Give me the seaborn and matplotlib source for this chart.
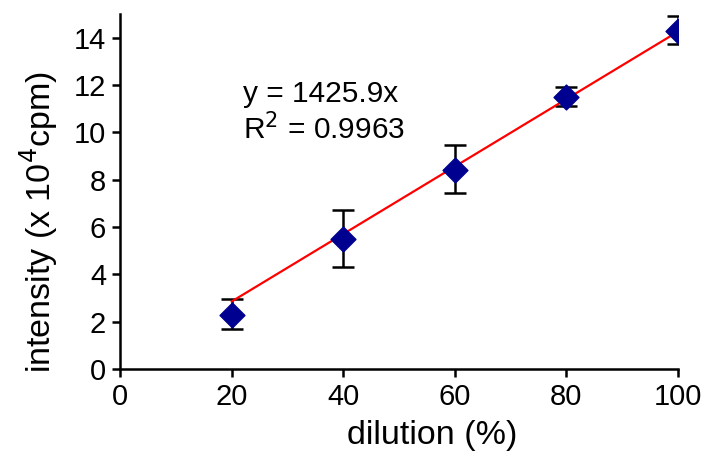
import numpy as np
import seaborn as sns
from matplotlib import pyplot as plt

# data
dilution = [20, 40, 60, 80, 100]
intensity = [2.3, 5.5, 8.4, 11.5, 14.3]
err_up = [0.65, 1.2, 1.05, 0.4, 0.6]
err_down = [0.6, 1.2, 0.95, 0.4, 0.55]

fit_x = [20, 100]
slope = 1425.9 / 10000  # y = 1425.9x, axis in 10^4 cpm
fit_y = [slope * v for v in fit_x]

x_ticks = [0, 20, 40, 60, 80, 100]
y_ticks = [0, 2, 4, 6, 8, 10, 12, 14]

sns.set_style("white")
plt.rcParams['font.family'] = ['Liberation Sans', 'DejaVu Sans']
plt.rcParams['text.color'] = 'black'
plt.rcParams['axes.labelcolor'] = 'black'
plt.rcParams['xtick.color'] = 'black'
plt.rcParams['ytick.color'] = 'black'

fig = plt.figure(figsize=(7.08, 4.55), dpi=100)
ax = fig.add_axes([0.1695, 0.189, 0.788, 0.78])

ax.errorbar(dilution, intensity, yerr=[err_down, err_up], fmt='none',
            ecolor='black', elinewidth=1.8, capsize=8, capthick=1.8, zorder=2)
sns.lineplot(x=fit_x, y=fit_y, ax=ax, color='#ff0000', linewidth=1.6, zorder=3)
sns.scatterplot(x=dilution, y=intensity, ax=ax, marker='D', s=160,
                color='#000090', edgecolor='#000090', zorder=4)

ax.set_xlim(0, 100)
ax.set_ylim(0, 15)
ax.set_xticks(x_ticks)
ax.set_yticks(y_ticks)
ax.tick_params(axis='both', direction='out', length=6, width=1.8,
               labelsize=21, color='black', labelcolor='black', pad=4,
               bottom=True, left=True)

for side in ['top', 'right']:
    ax.spines[side].set_visible(False)
for side in ['left', 'bottom']:
    ax.spines[side].set_linewidth(1.8)
    ax.spines[side].set_color('black')

ax.set_xlabel('dilution (%)', fontsize=24.5)
ax.set_ylabel('intensity (x 10$^4$cpm)', fontsize=24.5, labelpad=10)
ax.xaxis.set_label_coords(0.559, -0.145, transform=ax.transAxes)
ax.yaxis.label.set_y(0.414)

ax.text(22, 11.27, 'y = 1425.9x', fontsize=21.5)
ax.text(22, 9.7, 'R$^2$ = 0.9963', fontsize=21.5)

fig.savefig('out.png', dpi=100)
